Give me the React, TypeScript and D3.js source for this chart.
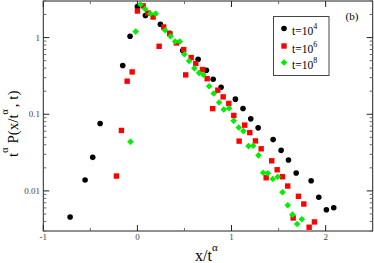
import React from "react";
import * as d3 from "d3";

const seriesLabels = ["4", "6", "8"];

const blackX = [-0.715, -0.556, -0.475, -0.396, -0.156, -0.078, 0.0, 0.085, 0.244, 0.343, 0.481, 0.645, 0.733, 0.805, 0.889, 1.041, 1.122, 1.204, 1.283, 1.442, 1.527, 1.605, 1.687, 1.846, 1.927, 2.008, 2.086];
const blackY = [0.00457, 0.01387, 0.0274, 0.0759, 0.432, 1.04, 2.53, 1.934, 1.49, 1.137, 0.677, 0.522, 0.375, 0.2864, 0.2254, 0.1573, 0.119, 0.0871, 0.0665, 0.0467, 0.0338, 0.0253, 0.0171, 0.01358, 0.00826, 0.00569, 0.00604];

const redX = [-0.223, -0.17, -0.109, -0.056, 0.0, 0.061, 0.109, 0.167, 0.231, 0.279, 0.343, 0.414, 0.492, 0.513, 0.571, 0.62, 0.691, 0.741, 0.8, 0.854, 0.911, 0.971, 1.024, 1.081, 1.14, 1.194, 1.254, 1.315, 1.368, 1.427, 1.485, 1.541, 1.597, 1.655, 1.711, 1.768, 1.825, 1.881];
const redY = [0.01563, 0.0615, 0.27, 0.3565, 2.22, 2.594, 2.09, 1.854, 0.77, 1.374, 1.127, 0.851, 0.698, 0.326, 0.549, 0.4585, 0.383, 0.2907, 0.1183, 0.206, 0.1685, 0.1383, 0.0965, 0.0446, 0.0721, 0.0576, 0.0449, 0.0354, 0.01485, 0.0247, 0.01888, 0.0153, 0.01158, 0.00444, 0.00851, 0.00675, 0.00336, 0.00394];

const greenX = [-0.074, -0.018, 0.032, 0.082, 0.138, 0.194, 0.294, 0.351, 0.401, 0.45, 0.499, 0.549, 0.605, 0.655, 0.701, 0.762, 0.811, 0.868, 0.917, 0.974, 1.023, 1.077, 1.126, 1.18, 1.23, 1.286, 1.336, 1.385, 1.438, 1.491, 1.541, 1.597, 1.647, 1.697, 1.747];
const greenY = [0.0437, 1.197, 2.7, 2.357, 2.053, 2.053, 1.245, 1.04, 0.887, 0.887, 0.606, 0.496, 0.398, 0.346, 0.328, 0.232, 0.1865, 0.1425, 0.1155, 0.12, 0.082, 0.0673, 0.0603, 0.0384, 0.0388, 0.0291, 0.01726, 0.01694, 0.01428, 0.0153, 0.0096, 0.0065, 0.0049, 0.00371, 0.00427];

const xTicks = [-1, 0, 1, 2];
const xMinorTicks = [-0.5, 0.5, 1.5];
const yTicks = [1, 0.1, 0.01];
const yTickLabels = ["1", "0.1", "0.01"];

const serif = "'Liberation Serif', 'Times New Roman', serif";

export default function App() {
  const left = 43.3, right = 372.7, top = 1, bottom = 231;
  const x = d3.scaleLinear().domain([-1, 2.5]).range([left, right]);
  const y = d3.scaleLog().domain([0.003, 3]).range([bottom, top]);

  const yMinor: number[] = [];
  for (const dec of [0.001, 0.01, 0.1, 1]) {
    for (let k = 2; k <= 9; k++) {
      const v = dec * k;
      if (v >= 0.003 && v <= 3.0001) yMinor.push(v);
    }
  }

  const blackPts = blackX.map((v, i) => [v, blackY[i]]);
  const redPts = redX.map((v, i) => [v, redY[i]]);
  const greenPts = greenX.map((v, i) => [v, greenY[i]]);

  const circle = (cx: number, cy: number, key: any) => (
    <circle key={key} cx={cx} cy={cy} r={2.8} fill="#000" />
  );
  const square = (cx: number, cy: number, key: any) => (
    <rect key={key} x={cx - 2.7} y={cy - 2.7} width={5.4} height={5.4} fill="#ff0000" />
  );
  const diamond = (cx: number, cy: number, key: any) => (
    <path key={key} d={`M${cx},${cy - 3.3}L${cx + 3.3},${cy}L${cx},${cy + 3.3}L${cx - 3.3},${cy}Z`} fill="#00ee00" />
  );
  const markers = [circle, square, diamond];

  const legendY = [28.5, 46, 62.5];

  return (
    <svg width={374} height={263} style={{ position: "absolute", left: 0, top: 0, background: "#fff" }}>
      {/* frame */}
      <rect x={left} y={top} width={right - left} height={bottom - top} fill="none" stroke="#222" strokeWidth={1} />
      {/* x ticks */}
      {xTicks.map((t) => (
        <g key={"xt" + t}>
          <line x1={x(t)} x2={x(t)} y1={bottom} y2={bottom - 6} stroke="#222" />
          <line x1={x(t)} x2={x(t)} y1={top} y2={top + 6} stroke="#222" />
          <text x={x(t)} y={240} fontSize={9} fill="#444" fontFamily={serif} textAnchor="middle">{t}</text>
        </g>
      ))}
      {xMinorTicks.map((t) => (
        <g key={"xm" + t}>
          <line x1={x(t)} x2={x(t)} y1={bottom} y2={bottom - 3} stroke="#666" />
          <line x1={x(t)} x2={x(t)} y1={top} y2={top + 3} stroke="#666" />
        </g>
      ))}
      {/* y ticks */}
      {yTicks.map((t, i) => (
        <g key={"yt" + t}>
          <line x1={left} x2={left + 6} y1={y(t)} y2={y(t)} stroke="#222" />
          <line x1={right} x2={right - 6} y1={y(t)} y2={y(t)} stroke="#222" />
          <text x={40} y={y(t) + 3} fontSize={9} fill="#444" fontFamily={serif} textAnchor="end">{yTickLabels[i]}</text>
        </g>
      ))}
      {yMinor.map((t) => (
        <g key={"ym" + t}>
          <line x1={left} x2={left + 3} y1={y(t)} y2={y(t)} stroke="#666" />
          <line x1={right} x2={right - 3} y1={y(t)} y2={y(t)} stroke="#666" />
        </g>
      ))}
      {/* data */}
      {blackPts.map((p, i) => circle(x(p[0]), y(p[1]), "b" + i))}
      {redPts.map((p, i) => square(x(p[0]), y(p[1]), "r" + i))}
      {greenPts.map((p, i) => diamond(x(p[0]), y(p[1]), "g" + i))}
      {/* legend */}
      <rect x={273.5} y={16.5} width={55.5} height={59} fill="#fff" stroke="#444" strokeWidth={1} />
      {seriesLabels.map((s, i) => (
        <g key={"lg" + s}>
          {markers[i](284, legendY[i], "lm" + i)}
          <text x={292} y={legendY[i] + 6.5} fontSize={11.5} fill="#000" fontFamily={serif}>
            t=10<tspan dy={-6} fontSize={8}>{s}</tspan>
          </text>
        </g>
      ))}
      <text x={345.5} y={19.5} fontSize={11} fill="#000" fontFamily={serif}>(b)</text>
      {/* x label */}
      <text x={195} y={261} fontSize={16} fill="#000" fontFamily={serif}>
        x/t<tspan dy={-10} fontSize={11}>α</tspan>
      </text>
      {/* y label */}
      <text transform="translate(18,157) rotate(-90)" fontSize={15} fill="#000" fontFamily={serif}>
        t<tspan dy={-10} fontSize={10}>α</tspan>
        <tspan dy={10} dx={4}>P(x/t</tspan>
        <tspan dy={-10} fontSize={10}>α</tspan>
        <tspan dy={10} dx={2}>, t)</tspan>
      </text>
    </svg>
  );
}
